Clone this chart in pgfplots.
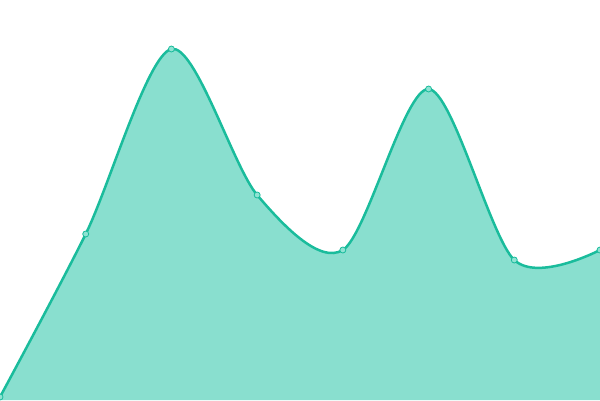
\documentclass[border=0pt]{standalone}
\usepackage{pgfplots}
\pgfplotsset{compat=1.18}
\definecolor{lineteal}{HTML}{1ABC9C}
\definecolor{fillteal}{HTML}{89DFCF}
\definecolor{markteal}{HTML}{8FE3D3}
\begin{document}
\begin{tikzpicture}
\begin{axis}[
  name=ax,
  width=600pt, height=400pt,
  scale only axis,
  hide axis,
  xmin=0, xmax=7,
  ymin=0, ymax=400,
  clip=true,
]
% area
\addplot[smooth, draw=none, fill=fillteal] coordinates {
  (0,3) (1,166) (2,351) (3,205) (4,150) (5,311) (6,140) (7,150)
} \closedcycle;
% line
\addplot[smooth, draw=lineteal, line width=2.5pt, mark=*,
  mark size=3pt,
  mark options={fill=markteal, draw=lineteal, line width=0.8pt}]
  coordinates {
  (0,3) (1,166) (2,351) (3,205) (4,150) (5,311) (6,140) (7,150)
};
\end{axis}
\pgfresetboundingbox
\path (ax.south west) rectangle (ax.north east);
\end{tikzpicture}
\end{document}
